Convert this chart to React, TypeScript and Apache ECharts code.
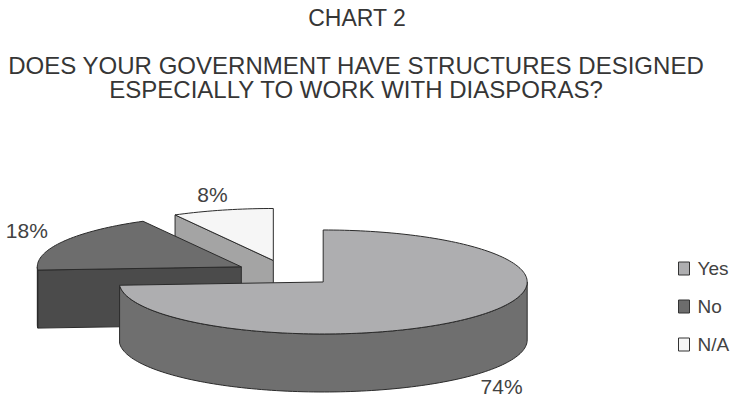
import React, { useEffect, useRef } from 'react';
import * as echarts from 'echarts';

const categories = ['Yes', 'No', 'N/A'];
const values = [74, 18, 8];
const percentLabels = ['74%', '18%', '8%'];
const topColors = ['#aeaeb0', '#6d6d6d', '#f6f6f6'];
const wallColors = ['#6f6f6f', '#4b4b4b', '#a4a4a4'];
const titleText = 'CHART 2';
const subtitleLines = [
  'DOES YOUR GOVERNMENT HAVE STRUCTURES DESIGNED',
  'ESPECIALLY TO WORK WITH DIASPORAS?',
];

const CENTER_X = 0.3865;
const CENTER_Y = 0.681;
const RX = 204;
const RY = 52;
const DEPTH = 58;
const EXPLODE = 0.25;
const LABEL_F = 1.2;
const FONT = 'Liberation Sans, Arial, sans-serif';
const STROKE = '#2b2b2b';

function makeRenderItem(idx: number) {
  return (_params: any, api: any) => {
    const W = api.getWidth();
    const H = api.getHeight();
    const total = values.reduce((a, b) => a + b, 0);
    let acc = 0;
    for (let j = 0; j < idx; j++) acc += values[j];
    const a0 = (acc / total) * Math.PI * 2;
    const a1 = ((acc + values[idx]) / total) * Math.PI * 2;
    const mid = (a0 + a1) / 2;
    const ox = W * CENTER_X + Math.sin(mid) * RX * EXPLODE;
    const oy = H * CENTER_Y - Math.cos(mid) * RY * EXPLODE;
    const P = (t: number, d = 0) => [ox + Math.sin(t) * RX, oy - Math.cos(t) * RY + d];
    const arc = (s: number, e: number, d: number) => {
      const n = Math.max(2, Math.ceil((e - s) / (Math.PI / 120)));
      const pts: number[][] = [];
      for (let k = 0; k <= n; k++) pts.push(P(s + ((e - s) * k) / n, d));
      return pts;
    };
    const style = (fill: string) => ({ fill, stroke: STROKE, lineWidth: 1, lineJoin: 'round' });
    const children: any[] = [];
    if (Math.sin(a0) < -1e-6) {
      children.push({
        type: 'polygon',
        shape: { points: [[ox, oy], P(a0), P(a0, DEPTH), [ox, oy + DEPTH]] },
        style: style(wallColors[idx]),
      });
    }
    if (Math.sin(a1) > 1e-6) {
      children.push({
        type: 'polygon',
        shape: { points: [[ox, oy], P(a1), P(a1, DEPTH), [ox, oy + DEPTH]] },
        style: style(wallColors[idx]),
      });
    }
    const s = Math.max(a0, Math.PI / 2);
    const e = Math.min(a1, Math.PI * 1.5);
    if (e > s) {
      children.push({
        type: 'polygon',
        shape: { points: arc(s, e, 0).concat(arc(s, e, DEPTH).reverse()) },
        style: style(wallColors[idx]),
      });
    }
    children.push({
      type: 'polygon',
      shape: { points: [[ox, oy]].concat(arc(a0, a1, 0)) },
      style: style(topColors[idx]),
    });
    const back = Math.cos(mid) > 0;
    const lx = ox + Math.sin(mid) * RX * LABEL_F;
    const ly = oy - Math.cos(mid) * RY * LABEL_F + (back ? -6 : DEPTH + 4);
    children.push({
      type: 'text',
      x: lx,
      y: ly,
      style: {
        text: percentLabels[idx],
        fill: '#424242',
        fontSize: 21,
        fontFamily: FONT,
        align: 'center',
        verticalAlign: 'middle',
      },
    });
    return { type: 'group', children };
  };
}

export default function App() {
  const ref = useRef<HTMLDivElement>(null);
  useEffect(() => {
    document.body.style.margin = '0';
    const chart = echarts.init(ref.current!, undefined, { renderer: 'svg' });
    const option: any = {
      animation: false,
      backgroundColor: '#ffffff',
      graphic: [
        {
          type: 'text',
          x: 357,
          y: 18,
          scaleX: 1.0,
          style: {
            text: titleText,
            fill: '#363636',
            fontSize: 23,
            fontFamily: FONT,
            align: 'center',
            verticalAlign: 'middle',
          },
        },
        ...subtitleLines.map((t, i) => ({
          type: 'text',
          x: 356,
          y: 66 + i * 24,
          scaleX: 1.045,
          style: {
            text: t,
            fill: '#363636',
            fontSize: 23,
            fontFamily: FONT,
            align: 'center',
            verticalAlign: 'middle',
          },
        })),
      ],
      legend: {
        data: categories,
        orient: 'vertical',
        left: 678,
        top: 259,
        itemWidth: 11,
        itemHeight: 13,
        itemGap: 19,
        icon: 'rect',
        padding: 0,
        selectedMode: false,
        itemStyle: { borderColor: '#333', borderWidth: 1 },
        textStyle: { fontSize: 19, color: '#424242', fontFamily: FONT, padding: [0, 0, 0, 3] },
      },
      series: categories.map((name, i) => ({
        type: 'custom',
        name,
        coordinateSystem: 'none',
        z: 10 - i,
        silent: true,
        itemStyle: { color: topColors[i] },
        data: [values[i]],
        renderItem: makeRenderItem(i),
      })),
    };
    chart.setOption(option);
    return () => chart.dispose();
  }, []);
  return <div ref={ref} style={{ position: 'fixed', left: 0, top: 0, width: 740, height: 401 }} />;
}
